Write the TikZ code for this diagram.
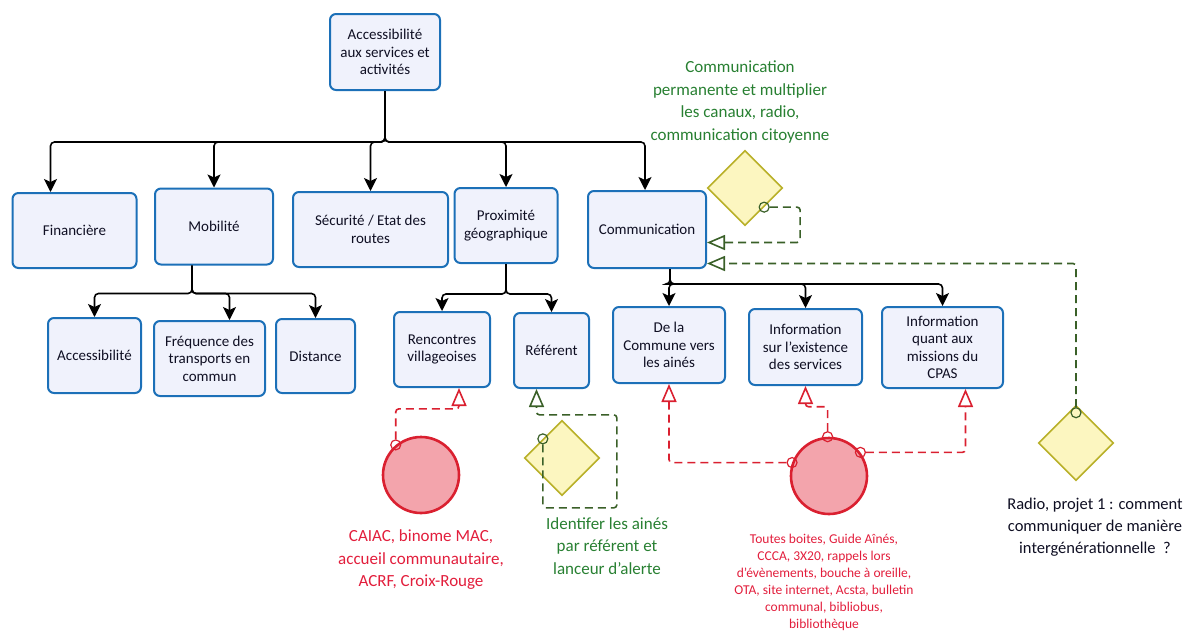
\documentclass[tikz,border=0pt]{standalone}
\usepackage{fontspec}
\setmainfont{Carlito}
\usetikzlibrary{arrows.meta,shapes.geometric}
\definecolor{boxblue}{RGB}{28,112,184}
\definecolor{boxfill}{RGB}{240,242,252}
\definecolor{boxtext}{RGB}{15,15,35}
\definecolor{redline}{RGB}{218,32,48}
\definecolor{redfill}{RGB}{243,164,172}
\definecolor{redtext}{RGB}{226,30,60}
\definecolor{diafill}{RGB}{252,246,192}
\definecolor{diadraw}{RGB}{184,176,40}
\definecolor{greentext}{RGB}{40,128,50}
\definecolor{greenline}{RGB}{58,96,40}

\begin{document}
\begin{tikzpicture}[x=1pt, y=-1pt,
    every node/.style={font=\fontsize{15}{17.5}\selectfont, text=boxtext},
    box/.style={draw=boxblue, line width=2pt, fill=boxfill, rounded corners=6pt, align=center, inner sep=2pt},
    arr/.style={-{Stealth[length=13pt, width=13pt, inset=3pt]}, line width=1.6pt, rounded corners=4pt},
    actor/.style={circle, draw=redline, line width=2.6pt, fill=redfill, minimum size=76pt, inner sep=0pt},
    idea/.style={diamond, aspect=1, draw=diadraw, line width=1.6pt, fill=diafill, minimum size=75pt, inner sep=0pt},
    rmark/.style={circle, draw=redline, line width=1.2pt, minimum size=10pt, inner sep=0pt},
    gmark/.style={circle, draw=greenline, line width=1.2pt, minimum size=10pt, inner sep=0pt},
    rdash/.style={draw=redline, line width=1.6pt, dash pattern=on 8pt off 5pt, rounded corners=3pt, -{Triangle[open, length=18pt, width=15pt]}},
    gdash/.style={draw=greenline, line width=1.6pt, dash pattern=on 8pt off 5pt, rounded corners=3pt, -{Triangle[open, length=18pt, width=15pt]}},
    note/.style={align=center, font=\fontsize{17}{22.5}\selectfont}]
    \useasboundingbox (0,0) rectangle (1192,630);

    % Root
    \node[box, minimum width=110pt, minimum height=76pt] (root) at (385,52) {Accessibilité\\aux services et\\activités};

    % First level
    \node[box, minimum width=124pt, minimum height=75pt] (fin) at (74.5,230.5) {Financière};
    \node[box, minimum width=118pt, minimum height=76pt] (mob) at (214,226.5) {Mobilité};
    \node[box, minimum width=155pt, minimum height=75pt] (sec) at (370.5,229.5) {Sécurité / Etat des\\routes};
    \node[box, minimum width=103pt, minimum height=75pt] (prox) at (506,225.5) {Proximité\\géographique};
    \node[box, minimum width=118pt, minimum height=77pt] (comm) at (647,229.5) {Communication};

    % Second level
    \node[box, minimum width=93pt, minimum height=75pt] (acc) at (94.5,355.5) {Accessibilité};
    \node[box, minimum width=111pt, minimum height=75pt] (freq) at (209.5,358.5) {Fréquence des\\transports en\\commun};
    \node[box, minimum width=79pt, minimum height=74pt] (dist) at (315.5,356) {Distance};
    \node[box, minimum width=96pt, minimum height=75pt] (renc) at (442,349.5) {Rencontres\\villageoises};
    \node[box, minimum width=75pt, minimum height=75pt] (ref) at (551.5,350.5) {Référent};
    \node[box, minimum width=112pt, minimum height=76pt] (com1) at (669,345) {De la\\Commune vers\\les ainés};
    \node[box, minimum width=113pt, minimum height=76pt] (info1) at (805.5,347) {Information\\sur l'existence\\des services};
    \node[box, minimum width=121pt, minimum height=81pt] (cpas) at (942.5,347.5) {Information\\quant aux\\missions du\\CPAS};

    % Tree connectors
    \foreach \n/\dx in {fin/-24, mob/0, sec/0, prox/0, comm/-2}
        \draw[arr] (root.south) -- ++(0,51) -| ([xshift=\dx pt]\n.north);
    \foreach \n/\dx in {acc/0, freq/20, dist/0}
        \draw[arr] ([xshift=-22pt]mob.south) -- ++(0,28) -| ([xshift=\dx pt]\n.north);
    \foreach \n in {renc, ref}
        \draw[arr] (prox.south) -- ++(0,30) -| (\n.north);
    \foreach \n in {com1, info1, cpas}
        \draw[arr] ([xshift=23pt]comm.south) -- ++(0,15) -| (\n.north);

    % Diamonds and circles
    \node[idea] (d1) at (745,188) {};
    \node[idea] (d2) at (562,458) {};
    \node[idea] (d3) at (1076,443) {};
    \node[actor] (c1) at (421,475) {};
    \node[actor] (c2) at (829,476) {};

    % Markers
    \node[gmark] (m1) at (d1.south east) {};
    \node[gmark] (m2) at (d2.north west) {};
    \node[gmark] (m3) at ([yshift=-8pt]d3.north) {};
    \node[rmark] (r1) at (c1.130) {};
    \node[rmark] (r2) at (c2.160) {};
    \node[rmark] (r3) at (c2.92) {};
    \node[rmark] (r4) at (c2.37) {};

    % Dashed links
    \draw[gdash] (m1) -- ++(36,0) |- ([yshift=-13pt]comm.east);
    \draw[gdash] (m3) |- ([yshift=-34pt]comm.east);
    \draw[gdash] (m2) -- ++(0,69) -- ++(74,0) -- ++(0,-93) -| ([xshift=-15pt]ref.south);
    \draw[rdash] (r1) -- ++(0,-36) -| ([xshift=17pt]renc.south);
    \draw[rdash] (r2) -| (com1.south);
    \draw[rdash] (r3) -- ++(0,-30) -| (info1.south);
    \draw[rdash] (r4) -| ([xshift=23pt]cpas.south);

    % Notes
    \node[note, text=greentext] (g1) at (740,102) {Communication\\permanente et multiplier\\les canaux, radio,\\communication citoyenne};
    \node[note, text=redtext] (t1) at (421,560) {CAIAC, binome MAC,\\accueil communautaire,\\ACRF, Croix-Rouge};
    \node[note, text=greentext] (g2) at (607,546) {Identifer les ainés\\par référent et\\lanceur d'alerte};
    \node[align=center, text=redtext, font=\fontsize{13.5}{17}\selectfont] (t2) at (824,582) {Toutes boites, Guide Aînés,\\CCCA, 3X20, rappels lors\\d'évènements, bouche à oreille,\\OTA, site internet, Acsta, bulletin\\communal, bibliobus,\\bibliothèque};
    \node[align=center, font=\fontsize{16.5}{22}\selectfont] (radio) at (1095,527) {Radio, projet 1 : comment\\communiquer de manière\\intergénérationnelle~~?};
\end{tikzpicture}
\end{document}
